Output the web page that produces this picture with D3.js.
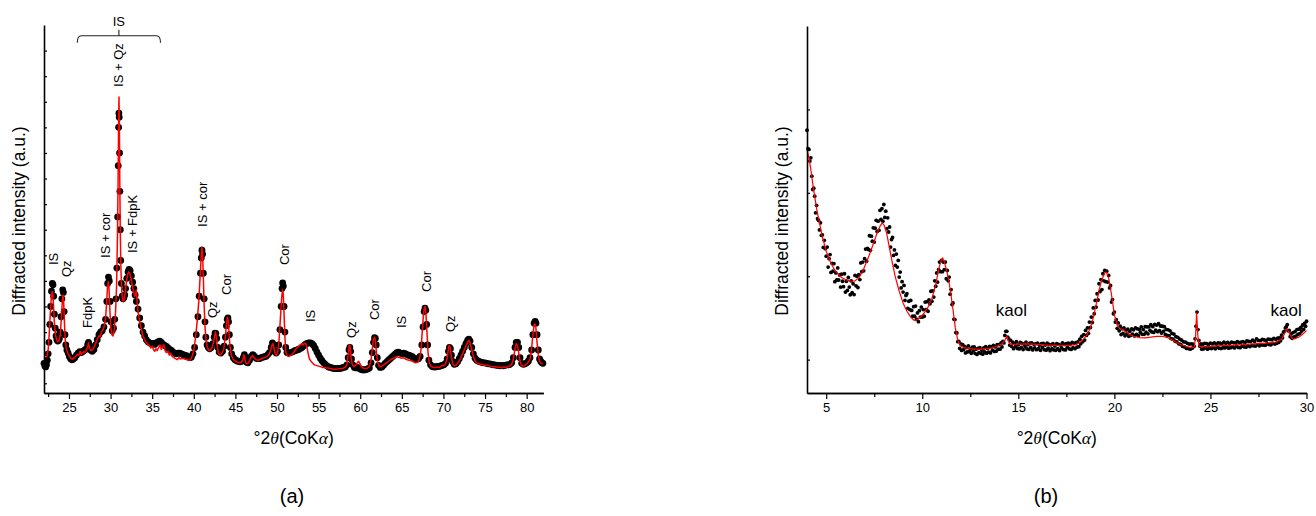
<!DOCTYPE html>
<html>
<head>
<meta charset="utf-8">
<script src="https://cdn.jsdelivr.net/npm/d3@7"></script>
<style>
  body { margin: 0; background: #fff; }
  text { font-family: "Liberation Sans", Arial, sans-serif; fill: #000; }
</style>
</head>
<body>
<svg id="fig" width="1316" height="516"></svg>
<script>
// ---------------- Panel (a): bulk sample, 22–82 °2θ ----------------
// Observed pattern [2θ, intensity]
const obsA = [
  [22.00,78],[22.10,68],[22.20,64],[22.30,72],[22.40,90],[22.50,115],[22.60,160],[22.70,230],[22.80,300],[22.90,360],
  [23.00,390],[23.08,385],[23.16,340],[23.25,270],[23.35,215],[23.45,185],[23.55,170],[23.65,165],[23.75,168],[23.85,175],
  [23.95,200],[24.05,260],[24.15,330],[24.25,365],[24.33,355],[24.42,280],[24.52,190],[24.62,150],[24.75,130],[24.90,118],
  [25.05,105],[25.20,96],[25.35,92],[25.50,94],[25.70,100],[25.90,110],[26.10,118],[26.30,124],[26.50,120],[26.70,125],
  [26.90,130],[27.10,135],[27.25,152],[27.35,160],[27.45,150],[27.60,130],[27.80,125],[28.00,132],[28.20,150],[28.40,170],
  [28.60,190],[28.80,200],[29.00,205],[29.20,220],[29.40,250],[29.55,320],[29.65,390],[29.75,415],[29.85,400],[29.95,320],
  [30.05,240],[30.20,205],[30.35,215],[30.50,250],[30.65,330],[30.75,450],[30.85,650],[30.92,850],[30.97,1000],[31.00,1056],
  [31.04,1040],[31.08,900],[31.12,750],[31.17,600],[31.22,480],[31.30,390],[31.40,340],[31.50,330],[31.60,335],[31.70,345],
  [31.80,370],[31.95,410],[32.10,435],[32.22,445],[32.35,440],[32.50,420],[32.65,395],[32.80,370],[32.95,345],[33.10,320],
  [33.30,290],[33.50,255],[33.70,225],[33.90,200],[34.10,185],[34.30,170],[34.50,162],[34.70,158],[34.90,154],[35.10,156],
  [35.30,152],[35.50,158],[35.70,162],[35.90,165],[36.10,160],[36.30,152],[36.50,148],[36.70,144],[36.90,138],[37.10,132],
  [37.30,128],[37.50,122],[37.70,118],[37.90,115],[38.10,118],[38.30,118],[38.50,115],[38.70,112],[38.90,110],[39.10,108],
  [39.30,104],[39.50,100],[39.70,102],[39.90,115],[40.10,140],[40.30,190],[40.50,260],[40.65,340],[40.80,430],[40.90,490],
  [40.98,520],[41.06,505],[41.15,430],[41.25,330],[41.35,240],[41.45,180],[41.60,150],[41.75,140],[41.90,135],[42.10,140],
  [42.30,155],[42.45,180],[42.55,196],[42.65,195],[42.75,175],[42.90,140],[43.05,122],[43.25,118],[43.45,125],[43.65,145],
  [43.80,180],[43.92,225],[44.02,250],[44.10,255],[44.18,240],[44.28,190],[44.40,140],[44.55,115],[44.75,100],[44.95,92],
  [45.15,88],[45.35,86],[45.55,84],[45.75,86],[45.95,100],[46.08,112],[46.20,100],[46.35,82],[46.50,80],[46.70,90],
  [46.90,105],[47.10,112],[47.30,105],[47.50,98],[47.70,96],[47.90,96],[48.10,100],[48.30,102],[48.50,104],[48.70,106],
  [48.90,112],[49.10,120],[49.30,140],[49.45,158],[49.60,150],[49.75,125],[49.90,118],[50.05,125],[50.20,150],[50.35,210],
  [50.50,300],[50.60,370],[50.68,392],[50.76,380],[50.85,300],[50.95,200],[51.05,140],[51.20,120],[51.40,118],[51.60,120],
  [51.80,122],[52.00,125],[52.20,128],[52.40,130],[52.60,132],[52.80,136],[53.00,140],[53.20,146],[53.40,152],[53.60,156],
  [53.80,158],[54.00,158],[54.20,155],[54.40,148],[54.60,136],[54.80,122],[55.00,110],[55.20,98],[55.40,88],[55.60,80],
  [55.80,74],[56.00,68],[56.20,64],[56.40,62],[56.60,60],[56.80,58],[57.00,58],[57.20,57],[57.40,58],[57.60,58],
  [57.80,60],[58.00,62],[58.20,64],[58.40,72],[58.55,100],[58.65,130],[58.75,140],[58.85,125],[58.95,95],[59.10,72],
  [59.30,62],[59.50,60],[59.70,62],[59.90,58],[60.10,54],[60.30,52],[60.50,52],[60.70,54],[60.90,56],[61.10,60],
  [61.30,80],[61.45,120],[61.60,160],[61.72,178],[61.82,175],[61.92,150],[62.05,100],[62.20,70],[62.40,62],[62.60,64],
  [62.80,70],[63.00,78],[63.20,84],[63.40,90],[63.60,96],[63.80,102],[64.00,108],[64.20,114],[64.40,120],[64.60,122],
  [64.80,118],[65.00,116],[65.20,118],[65.40,116],[65.60,112],[65.80,110],[66.00,108],[66.20,105],[66.40,100],[66.60,96],
  [66.80,94],[67.00,96],[67.20,105],[67.40,150],[67.55,220],[67.68,280],[67.78,294],[67.88,285],[67.98,230],[68.10,150],
  [68.25,90],[68.45,72],[68.65,66],[68.85,64],[69.05,64],[69.25,66],[69.45,66],[69.65,68],[69.85,70],[70.05,72],
  [70.25,78],[70.45,95],[70.60,125],[70.72,140],[70.84,135],[70.96,110],[71.10,85],[71.30,74],[71.50,76],[71.70,84],
  [71.90,96],[72.10,110],[72.30,125],[72.50,140],[72.70,155],[72.90,168],[73.05,172],[73.20,165],[73.40,140],[73.60,115],
  [73.80,98],[74.00,90],[74.20,86],[74.40,84],[74.60,82],[74.80,80],[75.00,80],[75.20,78],[75.40,76],[75.60,76],
  [75.80,74],[76.00,72],[76.20,72],[76.40,70],[76.60,70],[76.80,68],[77.00,70],[77.20,68],[77.40,70],[77.60,72],
  [77.80,72],[78.00,74],[78.20,80],[78.40,100],[78.60,140],[78.75,160],[78.90,160],[79.05,140],[79.20,100],[79.40,78],
  [79.60,74],[79.80,76],[80.00,80],[80.20,86],[80.40,100],[80.60,130],[80.75,190],[80.90,235],[81.02,242],[81.12,235],
  [81.25,190],[81.40,130],[81.55,95],[81.70,85],[81.85,80],[81.95,78]
];

// Calculated profile [2θ, intensity]
const calcA = [
  [22.00,100],[22.20,96],[22.35,105],[22.50,130],[22.62,190],[22.75,270],[22.88,335],[22.98,358],[23.06,350],[23.15,300],
  [23.25,235],[23.38,190],[23.50,172],[23.65,162],[23.80,165],[23.95,190],[24.08,250],[24.20,320],[24.28,345],[24.36,320],
  [24.45,240],[24.55,170],[24.68,135],[24.85,118],[25.00,108],[25.20,98],[25.40,95],[25.60,98],[25.80,105],[26.00,112],
  [26.20,110],[26.35,125],[26.45,112],[26.60,118],[26.80,124],[26.95,120],[27.10,132],[27.25,142],[27.35,158],[27.45,140],
  [27.60,128],[27.80,130],[28.00,140],[28.20,155],[28.40,172],[28.60,185],[28.75,182],[28.90,200],[29.10,210],[29.25,225],
  [29.40,255],[29.52,310],[29.62,370],[29.72,397],[29.80,380],[29.90,300],[30.00,225],[30.15,190],[30.30,185],[30.45,210],
  [30.60,280],[30.72,380],[30.82,560],[30.90,780],[30.96,1000],[31.01,1119],[31.06,1000],[31.11,780],[31.17,580],[31.25,440],
  [31.35,360],[31.45,325],[31.55,318],[31.65,330],[31.78,360],[31.92,400],[32.05,425],[32.18,436],[32.30,430],[32.45,410],
  [32.60,385],[32.75,360],[32.90,340],[33.00,345],[33.08,365],[33.16,330],[33.30,280],[33.50,240],[33.70,210],[33.90,185],
  [34.10,170],[34.30,158],[34.50,150],[34.70,145],[34.85,138],[35.00,145],[35.15,132],[35.30,125],[35.45,135],[35.60,128],
  [35.80,140],[35.95,150],[36.10,132],[36.25,145],[36.40,150],[36.55,128],[36.70,120],[36.90,125],[37.05,110],[37.20,118],
  [37.40,105],[37.60,100],[37.80,96],[38.00,92],[38.20,100],[38.40,95],[38.60,98],[38.80,96],[39.00,94],[39.20,92],
  [39.40,90],[39.60,92],[39.80,105],[40.00,130],[40.20,175],[40.40,240],[40.60,320],[40.75,410],[40.88,490],[40.97,533],
  [41.05,510],[41.14,420],[41.24,310],[41.35,220],[41.48,165],[41.62,140],[41.80,128],[42.00,130],[42.20,140],[42.38,160],
  [42.50,185],[42.60,200],[42.70,185],[42.82,145],[42.95,120],[43.15,110],[43.40,118],[43.60,135],[43.78,175],[43.92,230],
  [44.05,258],[44.14,245],[44.24,195],[44.36,140],[44.50,110],[44.70,95],[44.90,88],[45.10,84],[45.30,82],[45.50,80],
  [45.70,82],[45.90,92],[46.02,112],[46.12,98],[46.25,80],[46.45,76],[46.65,84],[46.85,100],[47.05,108],[47.25,100],
  [47.50,92],[47.75,90],[48.00,94],[48.25,98],[48.50,100],[48.75,104],[49.00,110],[49.20,125],[49.40,150],[49.52,155],
  [49.65,135],[49.80,112],[49.95,110],[50.10,125],[50.25,170],[50.40,250],[50.55,330],[50.66,365],[50.75,350],[50.85,270],
  [50.95,180],[51.05,125],[51.20,108],[51.40,105],[51.60,108],[51.80,112],[52.00,120],[52.20,130],[52.40,138],[52.60,144],
  [52.80,150],[53.00,155],[53.15,150],[53.30,157],[53.45,155],[53.60,140],[53.75,115],[53.90,95],[54.10,85],[54.30,78],
  [54.50,72],[54.70,70],[54.90,68],[55.10,66],[55.30,64],[55.50,62],[55.70,62],[55.90,60],[56.10,60],[56.40,58],
  [56.70,56],[57.00,55],[57.30,56],[57.60,58],[57.90,58],[58.20,62],[58.40,72],[58.55,110],[58.68,150],[58.78,145],
  [58.90,100],[59.05,72],[59.25,65],[59.45,70],[59.65,80],[59.80,86],[59.95,78],[60.15,64],[60.40,58],[60.65,58],
  [60.90,60],[61.10,66],[61.30,90],[61.45,135],[61.58,170],[61.70,180],[61.80,172],[61.92,130],[62.05,90],[62.20,70],
  [62.40,64],[62.65,68],[62.90,74],[63.15,80],[63.40,86],[63.65,92],[63.90,96],[64.15,100],[64.40,104],[64.65,102],
  [64.90,98],[65.15,100],[65.40,96],[65.65,92],[65.90,90],[66.15,88],[66.40,84],[66.65,80],[66.90,82],[67.10,92],
  [67.30,130],[67.45,200],[67.58,260],[67.70,296],[67.80,300],[67.90,270],[68.02,200],[68.15,120],[68.30,80],[68.50,66],
  [68.75,62],[69.00,62],[69.25,64],[69.50,62],[69.70,66],[69.85,70],[70.05,68],[70.25,76],[70.45,100],[70.60,135],
  [70.70,148],[70.80,140],[70.95,105],[71.10,78],[71.30,68],[71.50,70],[71.70,78],[71.90,88],[72.10,100],[72.30,115],
  [72.50,130],[72.70,145],[72.90,160],[73.05,168],[73.20,158],[73.40,130],[73.60,105],[73.80,88],[74.00,80],[74.25,76],
  [74.50,74],[74.75,72],[75.00,70],[75.25,70],[75.50,68],[75.75,66],[76.00,64],[76.25,66],[76.50,62],[76.75,64],
  [77.00,60],[77.25,64],[77.50,62],[77.75,66],[78.00,68],[78.20,74],[78.40,95],[78.60,135],[78.75,155],[78.88,150],
  [79.02,125],[79.18,90],[79.35,70],[79.55,66],[79.75,70],[80.00,76],[80.20,82],[80.40,95],[80.58,130],[80.75,190],
  [80.90,228],[81.00,232],[81.10,220],[81.22,170],[81.38,115],[81.55,85],[81.75,78],[81.95,75]
];

// Phase labels: text, 2θ position, intensity where the label starts
const labelTextA = ["IS","Qz","FdpK","IS + cor","IS + Qz","IS + FdpK","IS + cor","Qz","Cor","Cor","IS","Qz","Cor","IS","Cor","Qz"];
const labelPosA  = [23.08,24.64,27.16,29.43,30.93,32.67,41.00,42.20,43.94,50.90,54.00,58.90,61.70,65.00,67.90,70.80];
const labelBaseA = [462,415,216,490,1158,509,611,255,345,462,239,177,247,216,357,200];

// Bracket over the IS band
const bracketA = { from: 26, to: 36, mid: 31, level: 1358, text: "IS" };

const xMajorA = [25,30,35,40,45,50,55,60,65,70,75,80];
const xMinorA = [22.5,27.5,32.5,37.5,42.5,47.5,52.5,57.5,62.5,67.5,72.5,77.5];
const yTicksA = [0,100,200,300,400,500,600,700,800,900,1000,1100,1200,1300];

// ---------------- Panel (b): clay fraction, 4–30 °2θ ----------------
// Observed counts on a 0.05° step scan from 4.00° to 30.00°
const obsBStart = 4.0, obsBStep = 0.05;
const obsB = [
  // 4.00 – 4.95
  2750,2530,2520,2380,2420,2200,2040,2055,1960,1760,1850,1690,1670,1555,1640,1490,1495,1345,1430,1330,
  // 5.00 – 5.95
  1240,1350,1110,1210,1260,1045,1155,1060,1150,935,1040,955,1100,955,1015,870,1025,940,875,1030,
  // 6.00 – 6.95
  810,940,830,985,870,778,945,802,910,780,1010,885,1000,865,1020,960,1160,1055,1170,1065,
  // 7.00 – 7.95
  1210,1325,1180,1335,1320,1485,1310,1480,1420,1580,1410,1575,1670,1535,1660,1550,1790,1680,1810,1660,
  // 8.00 – 8.95
  1860,1705,1780,1570,1700,1530,1590,1350,1440,1465,1250,1315,1130,1265,1110,1190,990,1050,860,935,
  // 9.00 – 9.95
  810,890,710,770,790,615,700,600,710,590,520,635,520,642,485,560,455,587,510,630,
  // 10.00 – 10.95
  510,600,520,690,600,695,580,715,670,820,700,825,750,945,880,1040,930,1080,1170,1055,
  // 11.00 – 11.95
  1190,1055,1170,1080,1170,970,1070,945,990,785,840,660,680,485,480,325,320,215,220,135,
  // 12.00 – 12.95
  190,110,180,120,158,80,144,92,165,100,128,76,150,104,152,75,125,63,136,85,
  // 13.00 – 13.95
  144,74,114,65,141,93,155,77,134,91,158,80,152,114,171,98,152,101,180,125,
  // 14.00 – 14.95
  180,125,200,152,220,200,290,340,340,270,250,175,230,160,210,132,195,155,215,135,
  // 15.00 – 15.95
  178,128,208,146,196,121,185,155,210,129,179,123,198,147,202,116,186,140,190,120,
  // 16.00 – 16.95
  199,133,173,112,192,146,196,120,175,114,199,138,183,107,177,132,192,117,162,112,
  // 17.00 – 17.95
  193,133,184,109,175,140,201,121,182,117,193,148,199,130,181,122,208,144,195,131,
  // 18.00 – 18.95
  203,150,212,155,245,190,280,215,300,235,350,290,380,315,450,385,510,445,620,550,
  // 19.00 – 19.95
  710,630,790,715,910,815,960,840,1030,945,1070,935,1060,930,1010,860,890,690,720,550,
  // 20.00 – 20.95
  570,450,480,375,440,345,400,300,370,315,380,285,352,310,365,280,340,290,370,305,
  // 21.00 – 21.95
  357,284,381,303,370,287,364,326,393,304,360,303,396,329,392,310,393,351,419,332,
  // 22.00 – 22.95
  395,326,422,353,414,335,430,347,403,319,400,340,395,302,364,291,358,289,345,252,
  // 23.00 – 23.95
  314,245,307,223,275,212,268,190,246,183,235,159,213,152,211,135,195,133,187,126,
  // 24.00 – 24.95
  190,137,185,160,250,400,570,360,230,160,190,125,185,130,195,140,191,126,182,137,
  // 25.00 – 25.95
  198,133,189,144,200,130,186,151,202,137,198,133,189,144,210,140,196,151,207,137,
  // 26.00 – 26.95
  193,143,209,154,205,140,201,161,217,147,203,144,210,161,217,153,204,150,226,168,
  // 27.00 – 27.95
  220,156,217,168,234,165,216,162,248,179,230,166,227,178,244,175,236,172,228,189,
  // 28.00 – 28.95
  245,181,242,178,239,195,256,187,243,195,257,206,260,225,295,260,330,340,380,395,
  // 29.00 – 29.95
  420,345,350,275,310,255,325,273,335,282,360,302,365,312,385,342,415,362,435,400,
  // 30.00
  460
];

// Calculated profile [2θ, intensity]
const calcB = [
  [4.0,2520],[4.1,2420],[4.2,2280],[4.33,2060],[4.5,1810],[4.65,1640],[4.8,1470],[5.0,1300],[5.2,1180],[5.4,1090],
  [5.6,1030],[5.8,985],[6.0,960],[6.2,945],[6.35,940],[6.5,945],[6.7,980],[6.9,1060],[7.1,1170],[7.3,1290],
  [7.5,1420],[7.65,1520],[7.8,1600],[7.92,1640],[8.02,1610],[8.15,1510],[8.3,1330],[8.45,1150],[8.6,990],[8.8,820],
  [9.0,680],[9.2,580],[9.4,510],[9.55,475],[9.65,468],[9.8,490],[9.95,520],[10.1,560],[10.3,630],[10.5,730],
  [10.7,900],[10.85,1080],[10.98,1190],[11.06,1220],[11.15,1170],[11.3,1040],[11.45,850],[11.6,600],[11.72,380],[11.85,230],
  [12.0,165],[12.2,140],[12.6,128],[13.0,124],[13.5,135],[13.9,160],[14.15,190],[14.3,230],[14.4,282],[14.48,220],
  [14.6,180],[15.0,185],[15.5,190],[16.0,182],[16.5,175],[17.0,170],[17.5,168],[18.0,180],[18.3,220],[18.55,290],
  [18.75,380],[18.9,500],[19.05,660],[19.2,830],[19.35,960],[19.5,1040],[19.58,1050],[19.7,980],[19.85,780],[20.0,540],
  [20.15,410],[20.3,370],[20.45,362],[20.6,335],[20.8,300],[21.0,280],[21.3,265],[21.6,262],[21.9,270],[22.2,280],
  [22.5,280],[22.8,260],[23.1,225],[23.4,185],[23.7,160],[24.0,145],[24.15,150],[24.22,250],[24.28,560],[24.34,300],
  [24.4,160],[24.6,155],[25.0,160],[25.5,168],[26.0,172],[26.5,178],[27.0,185],[27.5,192],[28.0,200],[28.4,210],
  [28.7,245],[28.9,330],[29.0,368],[29.1,320],[29.25,255],[29.4,250],[29.6,270],[29.8,305],[30.0,348]
];

const labelTextB = ["kaol","kaol"];
const labelPosB  = [14.64,28.94];
const labelBaseB = [520,520];

const xMajorB = [5,10,15,20,25,30];
const xMinorB = [7.5,12.5,17.5,22.5,27.5];
const yTicksB = [0,1000,2000,3000];

const yTitle = "Diffracted intensity (a.u.)";
const panelNames = ["(a)","(b)"];

// ---------------- drawing ----------------
const svg = d3.select("#fig");

function xTitle(g, cx, y) {
  const t = g.append("text").attr("x", cx).attr("y", y)
    .attr("text-anchor", "middle").style("font-size", "17.5px");
  t.append("tspan").text("°2");
  t.append("tspan").style("font-style", "italic").style("font-family", "'Liberation Serif', serif").text("θ");
  t.append("tspan").text("(CoK");
  t.append("tspan").style("font-style", "italic").style("font-family", "'Liberation Serif', serif").text("α");
  t.append("tspan").text(")");
}

function panel(opt) {
  const g = svg.append("g");
  const x = d3.scaleLinear().domain(opt.xDomain).range(opt.xRange);
  const y = d3.scaleLinear().domain(opt.yDomain).range(opt.yRange);

  // observed points
  g.append("g").selectAll("circle").data(opt.obs).join("circle")
    .attr("cx", d => x(d[0])).attr("cy", d => y(d[1]))
    .attr("r", opt.dotR).attr("fill", "#000");

  // calculated profile
  g.append("path").datum(opt.calc)
    .attr("fill", "none").attr("stroke", "#ff0000")
    .attr("stroke-width", opt.lineW).attr("stroke-linejoin", "round")
    .attr("d", d3.line().x(d => x(d[0])).y(d => y(d[1])));

  // axes
  const yAxis = g.append("g").attr("transform", `translate(${opt.xRange[0]},0)`)
    .call(d3.axisLeft(y).tickValues(opt.yTicks).tickSize(-3).tickSizeOuter(0).tickFormat(""));
  const xMinor = g.append("g").attr("transform", `translate(0,${opt.yRange[0]})`)
    .call(d3.axisBottom(x).tickValues(opt.xMinor).tickSize(4).tickSizeOuter(0).tickFormat(""));
  const xAxis = g.append("g").attr("transform", `translate(0,${opt.yRange[0]})`)
    .call(d3.axisBottom(x).tickValues(opt.xMajor).tickSize(6).tickSizeOuter(0).tickPadding(4)
      .tickFormat(d3.format("d")));
  [yAxis, xMinor, xAxis].forEach(a => {
    a.select(".domain").attr("stroke", "#000").attr("stroke-width", 1.6);
    a.selectAll(".tick line").attr("stroke", "#000").attr("stroke-width", 1.2);
  });
  xAxis.selectAll(".tick text")
    .style("font-size", "13px").style("font-family", "'Liberation Sans', Arial, sans-serif")
    .attr("fill", "#000");

  // axis titles
  const cx = (opt.xRange[0] + opt.xRange[1]) / 2;
  xTitle(g, cx, 444);
  g.append("text").attr("transform", `translate(${opt.yTitleX},221) rotate(-90)`)
    .attr("text-anchor", "middle").style("font-size", "17.5px").text(yTitle);

  // panel letter
  g.append("text").attr("x", opt.nameX).attr("y", 503)
    .attr("text-anchor", "middle").style("font-size", "20px").text(opt.name);

  return { g, x, y };
}

// Panel (a)
const A = panel({
  xDomain: [22, 82], xRange: [44, 543.3],
  yDomain: [-38, 1400], yRange: [393, 25],
  obs: obsA, calc: calcA, dotR: 3.4, lineW: 1.5,
  xMajor: xMajorA, xMinor: xMinorA, yTicks: yTicksA,
  yTitleX: 25, nameX: 292, name: panelNames[0]
});

A.g.append("g").selectAll("text").data(labelTextA).join("text")
  .attr("transform", (d, i) => `translate(${A.x(labelPosA[i])},${A.y(labelBaseA[i])}) rotate(-90)`)
  .attr("dy", "0.35em").style("font-size", "13px").text(d => d);

// bracket with its label
{
  const x0 = A.x(bracketA.from), x1 = A.x(bracketA.to), xm = A.x(bracketA.mid);
  const yb = A.y(bracketA.level);
  const p = d3.path();
  p.moveTo(x0, yb + 7);
  p.quadraticCurveTo(x0, yb, x0 + 4, yb);
  p.lineTo(x1 - 4, yb);
  p.quadraticCurveTo(x1, yb, x1, yb + 7);
  p.moveTo(xm, yb);
  p.lineTo(xm, yb - 6);
  A.g.append("path").attr("d", p.toString())
    .attr("fill", "none").attr("stroke", "#222").attr("stroke-width", 1.1);
  A.g.append("text").attr("x", xm).attr("y", yb - 10)
    .attr("text-anchor", "middle").style("font-size", "13px").text(bracketA.text);
}

// Panel (b)
const obsBPairs = obsB.map((v, i) => [obsBStart + i * obsBStep, v]);
const B = panel({
  xDomain: [4, 30], xRange: [807, 1306.5],
  yDomain: [-400, 4000], yRange: [393, 26],
  obs: obsBPairs, calc: calcB, dotR: 1.9, lineW: 1.2,
  xMajor: xMajorB, xMinor: xMinorB, yTicks: yTicksB,
  yTitleX: 788, nameX: 1046, name: panelNames[1]
});

B.g.append("g").selectAll("text").data(labelTextB).join("text")
  .attr("x", (d, i) => B.x(labelPosB[i])).attr("y", (d, i) => B.y(labelBaseB[i]))
  .attr("text-anchor", "middle").style("font-size", "17px").text(d => d);
</script>
</body>
</html>
